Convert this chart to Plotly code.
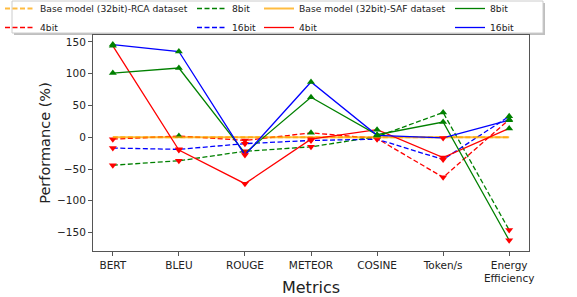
import plotly.graph_objects as go

categories = ["BERT", "BLEU", "ROUGE", "METEOR", "COSINE", "Token/s", "Energy<br>Efficiency"]
x_idx = [0, 1, 2, 3, 4, 5, 6]

# RCA dataset (dashed)
rca_base = [0, 0, 0, 0, 0, 0, 0]
rca_4bit = [-3, 2, -5, 7, -2, -63, 28]
rca_8bit = [-44, -37, -22, -15, 1, 39, -146]
rca_16bit = [-17, -19, -10, -5, -3, -35, 33]

# SAF dataset (solid)
saf_base = [0, 0, 0, 0, 0, 0, 0]
saf_4bit = [144, -20, -73, -3, 12, -32, 14]
saf_8bit = [101, 109, -25, 63, 4, 24, -162]
saf_16bit = [146, 135, -28, 87, 3, -1, 27]

FONT = "DejaVu Sans"
ORANGE = "rgba(255,165,0,0.75)"

fig = go.Figure()

def add_line(vals, name, color, dash, legend, width=1.3):
    fig.add_trace(go.Scatter(
        x=x_idx, y=vals, mode="lines", name=name,
        line=dict(color=color, dash=dash, width=width),
        legend=legend, showlegend=True))

def add_markers(vals):
    pos = [(x, v) for x, v in zip(x_idx, vals) if v >= 0]
    neg = [(x, v) for x, v in zip(x_idx, vals) if v < 0]
    if pos:
        fig.add_trace(go.Scatter(
            x=[p[0] for p in pos], y=[p[1] for p in pos], mode="markers",
            marker=dict(symbol="triangle-up", color="green", size=7),
            showlegend=False, hoverinfo="skip"))
    if neg:
        fig.add_trace(go.Scatter(
            x=[p[0] for p in neg], y=[p[1] for p in neg], mode="markers",
            marker=dict(symbol="triangle-down", color="red", size=7),
            showlegend=False, hoverinfo="skip"))

DASH = "5px,2.5px"
add_line(rca_base, "Base model (32bit)-RCA dataset", ORANGE, DASH, "legend", 2)
add_line(rca_4bit, "4bit", "red", DASH, "legend")
add_markers(rca_4bit)
add_line(rca_8bit, "8bit", "green", DASH, "legend2")
add_markers(rca_8bit)
add_line(rca_16bit, "16bit", "blue", DASH, "legend2")
add_markers(rca_16bit)
add_line(saf_base, "Base model (32bit)-SAF dataset", ORANGE, "solid", "legend3", 2)
add_line(saf_4bit, "4bit", "red", "solid", "legend3")
add_markers(saf_4bit)
add_line(saf_8bit, "8bit", "green", "solid", "legend4")
add_markers(saf_8bit)
add_line(saf_16bit, "16bit", "blue", "solid", "legend4")
add_markers(saf_16bit)

L, R, T, B = 93, 48, 35, 46
W, H = 577, 297
pw, ph = W - L - R, H - T - B

def px_x(p):
    return (p - L) / pw

def px_y(p):
    return 1 + (T - p) / ph

leg_common = dict(orientation="v", yanchor="top", y=px_y(-6), xanchor="left",
                  bgcolor="rgba(0,0,0,0)", borderwidth=0,
                  font=dict(family=FONT, size=9.2, color="#222"),
                  tracegroupgap=0, itemwidth=30)

fig.update_layout(
    width=W, height=H,
    margin=dict(l=L, r=R, t=T, b=B, autoexpand=False),
    paper_bgcolor="white", plot_bgcolor="white",
    font=dict(family=FONT, color="#222"),
    legend=dict(x=px_x(0), **leg_common),
    legend2=dict(x=px_x(192), **leg_common),
    legend3=dict(x=px_x(259), **leg_common),
    legend4=dict(x=px_x(450), **leg_common),
    xaxis=dict(range=[-0.3, 6.3], tickvals=x_idx, ticktext=categories,
               showgrid=False, zeroline=False, showline=True, mirror=True,
               linecolor="#555", linewidth=1, ticks="outside", ticklen=4,
               tickcolor="#555", tickfont=dict(family=FONT, size=10.5, color="#222"),
               title=dict(text="Metrics", font=dict(family=FONT, size=16, color="#222"), standoff=8)),
    yaxis=dict(range=[-179, 161], tickvals=[-150, -100, -50, 0, 50, 100, 150],
               showgrid=False, zeroline=False, showline=True, mirror=True,
               linecolor="#555", linewidth=1, ticks="outside", ticklen=4,
               tickcolor="#555", tickfont=dict(family=FONT, size=10.5, color="#222"),
               title=dict(text="Performance (%)", font=dict(family=FONT, size=14.5, color="#222"), standoff=2)),
)

# legend frame (shadow + box)
fig.add_shape(type="rect", xref="paper", yref="paper",
              x0=px_x(14), x1=px_x(545), y0=px_y(35), y1=px_y(3),
              line=dict(width=0), fillcolor="rgba(0,0,0,0.25)", layer="below")
fig.add_shape(type="rect", xref="paper", yref="paper",
              x0=px_x(12), x1=px_x(543), y0=px_y(33), y1=px_y(1),
              line=dict(width=1, color="#ccc"), fillcolor="white", layer="below")

fig.write_html("out.html", config={"displayModeBar": False},
               post_script="document.body.style.margin='0px';")
